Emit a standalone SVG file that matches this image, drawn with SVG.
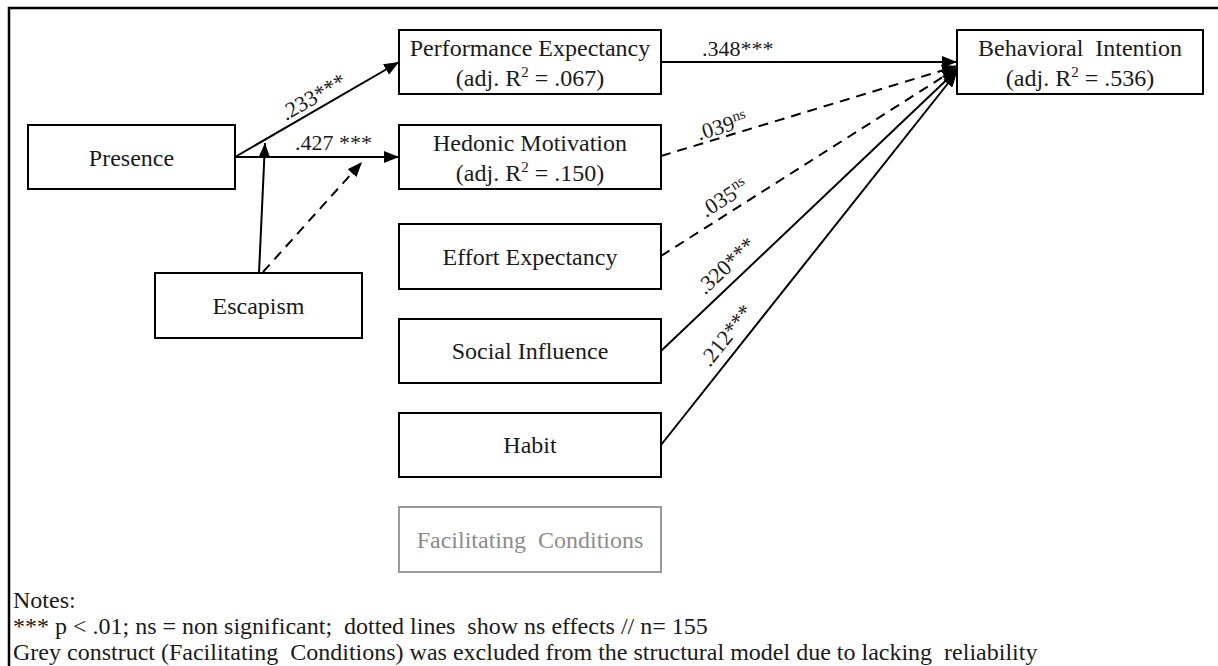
<svg xmlns="http://www.w3.org/2000/svg" width="1218" height="666" viewBox="0 0 1218 666">
<style>
  text { font-family: "Liberation Serif", "Times New Roman", serif; fill: #1a1a1a; }
  .box { fill: #fff; stroke: #000; stroke-width: 2; }
  .gbox { fill: #fff; stroke: #999; stroke-width: 2; }
  .lbl { font-size: 24px; text-anchor: middle; white-space: pre; }
  .glbl { font-size: 24px; text-anchor: middle; fill: #8c8c8c; white-space: pre; }
  .coef { font-size: 22px; }
  .mid { text-anchor: middle; }
  .edge { stroke: #000; stroke-width: 2; fill: none; }
  .dash { stroke-dasharray: 10 7; }
  .note { font-size: 24px; white-space: pre; }
</style>
<defs>
  <marker id="arr" viewBox="0 0 15 12" refX="15" refY="6" markerWidth="15" markerHeight="12" markerUnits="userSpaceOnUse" orient="auto">
    <path d="M0,0 L15,6 L0,12 z" fill="#000"/>
  </marker>
</defs>
<rect x="9" y="8" width="1240" height="700" fill="none" stroke="#000" stroke-width="2.5"/>

<g id="connectors">
  <path class="edge" d="M235,157 L399,62" marker-end="url(#arr)"/>
  <path class="edge" d="M235,157 L399,157" marker-end="url(#arr)"/>
  <path class="edge" d="M259,273 L265,143" marker-end="url(#arr)"/>
  <path class="edge dash" d="M263,272 L362,162" marker-end="url(#arr)"/>
  <path class="edge" d="M661,62 L957,62" marker-end="url(#arr)"/>
  <path class="edge dash" d="M661,156 L957,66" marker-end="url(#arr)"/>
  <path class="edge dash" d="M661,256 L957,68" marker-end="url(#arr)"/>
  <path class="edge" d="M661,351 L957,70" marker-end="url(#arr)"/>
  <path class="edge" d="M661,445 L957,72" marker-end="url(#arr)"/>
  <text class="coef mid" transform="translate(317,103) rotate(-30)">.233***</text>
  <text class="coef" x="295" y="150">.427 ***</text>
  <text class="coef" x="702" y="56">.348***</text>
  <text class="coef mid" transform="translate(724,133) rotate(-17)">.039<tspan font-size="15" dy="-8">ns</tspan></text>
  <text class="coef mid" transform="translate(728,204) rotate(-32.4)">.035<tspan font-size="15" dy="-8">ns</tspan></text>
  <text class="coef mid" transform="translate(731,271) rotate(-43.5)">.320***</text>
  <text class="coef mid" transform="translate(732,340) rotate(-51.6)">.212***</text>
</g>

<g id="presence">
  <rect class="box" x="28" y="125" width="207" height="64"/>
  <text class="lbl" x="131.5" y="166">Presence</text>
</g>
<g id="escapism">
  <rect class="box" x="155" y="273" width="207" height="65"/>
  <text class="lbl" x="258.5" y="314">Escapism</text>
</g>
<g id="performance-expectancy">
  <rect class="box" x="399" y="30" width="262" height="64"/>
  <text class="lbl" x="530" y="56">Performance Expectancy</text>
  <text class="lbl" x="530" y="86">(adj. R<tspan font-size="15" dy="-9">2</tspan><tspan dy="9"> = .067)</tspan></text>
</g>
<g id="hedonic-motivation">
  <rect class="box" x="399" y="125" width="262" height="64"/>
  <text class="lbl" x="530" y="151">Hedonic Motivation</text>
  <text class="lbl" x="530" y="181">(adj. R<tspan font-size="15" dy="-9">2</tspan><tspan dy="9"> = .150)</tspan></text>
</g>
<g id="effort-expectancy">
  <rect class="box" x="399" y="224" width="262" height="65"/>
  <text class="lbl" x="530" y="265">Effort Expectancy</text>
</g>
<g id="social-influence">
  <rect class="box" x="399" y="319" width="262" height="64"/>
  <text class="lbl" x="530" y="359">Social Influence</text>
</g>
<g id="habit">
  <rect class="box" x="399" y="413" width="262" height="64"/>
  <text class="lbl" x="530" y="453">Habit</text>
</g>
<g id="facilitating-conditions">
  <rect class="gbox" x="399" y="507" width="262" height="65"/>
  <text class="glbl" x="530" y="548">Facilitating  Conditions</text>
</g>
<g id="behavioral-intention">
  <rect class="box" x="957" y="30" width="246" height="64"/>
  <text class="lbl" x="1080" y="56">Behavioral  Intention</text>
  <text class="lbl" x="1080" y="86">(adj. R<tspan font-size="15" dy="-9">2</tspan><tspan dy="9"> = .536)</tspan></text>
</g>

<g id="notes">
  <text class="note" x="13" y="608">Notes:</text>
  <text class="note" x="13" y="634">*** p &lt; .01; ns = non significant;  dotted lines  show ns effects // n= 155</text>
  <text class="note" x="13" y="660">Grey construct (Facilitating  Conditions) was excluded from the structural model due to lacking  reliability</text>
</g>
</svg>
